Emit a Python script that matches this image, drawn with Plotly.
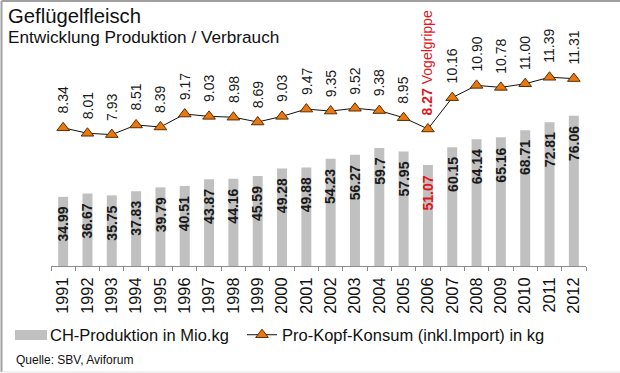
import plotly.graph_objects as go

# ---------------- data ----------------
years = [str(y) for y in range(1991, 2013)]
production = [34.99, 36.67, 35.75, 37.83, 39.79, 40.51, 43.87, 44.16, 45.59, 49.28, 49.88,
              54.23, 56.27, 59.7, 57.95, 51.07, 60.15, 64.14, 65.16, 68.71, 72.81, 76.06]
consumption = [8.34, 8.01, 7.93, 8.51, 8.39, 9.17, 9.03, 8.98, 8.69, 9.03, 9.47,
               9.35, 9.52, 9.38, 8.95, 8.27, 10.16, 10.90, 10.78, 11.00, 11.39, 11.31]
highlight_year = "2006"
highlight_note = "Vogelgrippe"
title = "Geflügelfleisch"
subtitle = "Entwicklung Produktion / Verbrauch"
bar_name = "CH-Produktion in Mio.kg"
line_name = "Pro-Kopf-Konsum (inkl.Import) in kg"
source = "Quelle: SBV, Aviforum"

# ---------------- layout geometry ----------------
W, H = 620, 373
ML, MR, MT, MB = 51, 34, 40, 107
PW, PH = W - ML - MR, H - MT - MB
FONT = "Liberation Sans, Arial, sans-serif"
RED = "#E3141B"


def px(x):
    return (x - ML) / PW


def py(y):
    return (H - MB - y) / PH


fig = go.Figure()
fig.add_trace(go.Bar(
    x=years, y=production, name=bar_name, width=0.41,
    marker=dict(color="#C0C0C0", line=dict(width=0)),
    showlegend=False, hoverinfo="skip",
))
fig.add_trace(go.Scatter(
    x=years, y=consumption, name=line_name, yaxis="y2", mode="lines+markers",
    line=dict(color="#111111", width=1),
    marker=dict(symbol="triangle-up", size=11, color="#E8780F",
                line=dict(color="#5A2D00", width=1)),
    hoverinfo="skip",
))

annotations = []
for i, (yr, v) in enumerate(zip(years, consumption)):
    red = yr == highlight_year
    txt = f"<b>{v:.2f}</b> {highlight_note}" if red else f"{v:.2f}"
    annotations.append(dict(
        x=i, xref="x", y=v, yref="y2", text=txt, textangle=-90,
        showarrow=False, xanchor="center", yanchor="bottom", yshift=12,
        font=dict(family=FONT, size=14, color=RED if red else "#1a1a1a"),
    ))
for i, (yr, v) in enumerate(zip(years, production)):
    red = yr == highlight_year
    annotations.append(dict(
        x=i, xref="x", y=v, yref="y", text=f"<b>{v:g}</b>", textangle=-90,
        showarrow=False, xanchor="center", yanchor="top", yshift=-8,
        font=dict(family=FONT, size=14, color=RED if red else "#1a1a1a"),
    ))

# titles & source
annotations += [
    dict(x=px(6), y=py(15.8), xref="paper", yref="paper", text=title, showarrow=False,
         xanchor="left", yanchor="middle", font=dict(family=FONT, size=20.3, color="#111")),
    dict(x=px(6), y=py(37.5), xref="paper", yref="paper", text=subtitle, showarrow=False,
         xanchor="left", yanchor="middle", font=dict(family=FONT, size=17.2, color="#111")),
    dict(x=px(14), y=py(360), xref="paper", yref="paper", text=source, showarrow=False,
         xanchor="left", yanchor="middle", font=dict(family=FONT, size=12, color="#111")),
    dict(x=px(48), y=py(335), xref="paper", yref="paper", text=bar_name, showarrow=False,
         xanchor="left", yanchor="middle", font=dict(family=FONT, size=16.5, color="#111")),
]

shapes = [
    # legend swatch for the bars
    dict(type="rect", xref="paper", yref="paper", x0=px(15), x1=px(47), y0=py(340), y1=py(330),
         fillcolor="#C0C0C0", line=dict(width=0)),
    # frame
    dict(type="line", xref="paper", yref="paper", x0=px(1.5), x1=px(620), y0=py(1), y1=py(1),
         line=dict(color="#A0A0A0", width=2)),
    dict(type="line", xref="paper", yref="paper", x0=px(1.5), x1=px(1.5), y0=py(1), y1=py(372),
         line=dict(color="#A0A0A0", width=2)),
    dict(type="line", xref="paper", yref="paper", x0=px(1.5), x1=px(620), y0=py(372), y1=py(372),
         line=dict(color="#E2E2E2", width=1)),
]

hidden_axis = dict(showticklabels=False, showline=False, showgrid=False, zeroline=False,
                   ticks="", fixedrange=True)

fig.update_layout(
    width=W, height=H,
    margin=dict(l=ML, r=MR, t=MT, b=MB, autoexpand=False),
    paper_bgcolor="white", plot_bgcolor="white",
    font=dict(family=FONT, color="#111"),
    showlegend=True,
    legend=dict(orientation="h", x=px(242), xanchor="left", y=py(335), yanchor="middle",
                font=dict(family=FONT, size=16.5, color="#111"), bgcolor="rgba(0,0,0,0)",
                itemwidth=30),
    xaxis=dict(type="category", showline=True, linecolor="#8C8C8C", linewidth=1,
               ticks="outside", tickson="boundaries", ticklen=4, tickcolor="#8C8C8C",
               ticklabelstandoff=4,
               tickangle=-90, tickfont=dict(family=FONT, size=16.3, color="#111"),
               showgrid=False, zeroline=False, range=[-0.5, len(years) - 0.5]),
    yaxis=dict(range=[0, PH / 1.976], **hidden_axis),
    yaxis2=dict(range=[0, PH / 16.57], overlaying="y", **hidden_axis),
    annotations=annotations,
    shapes=shapes,
)

fig.write_html("out.html", config={"displayModeBar": False},
               post_script="document.body.style.margin='0';")
